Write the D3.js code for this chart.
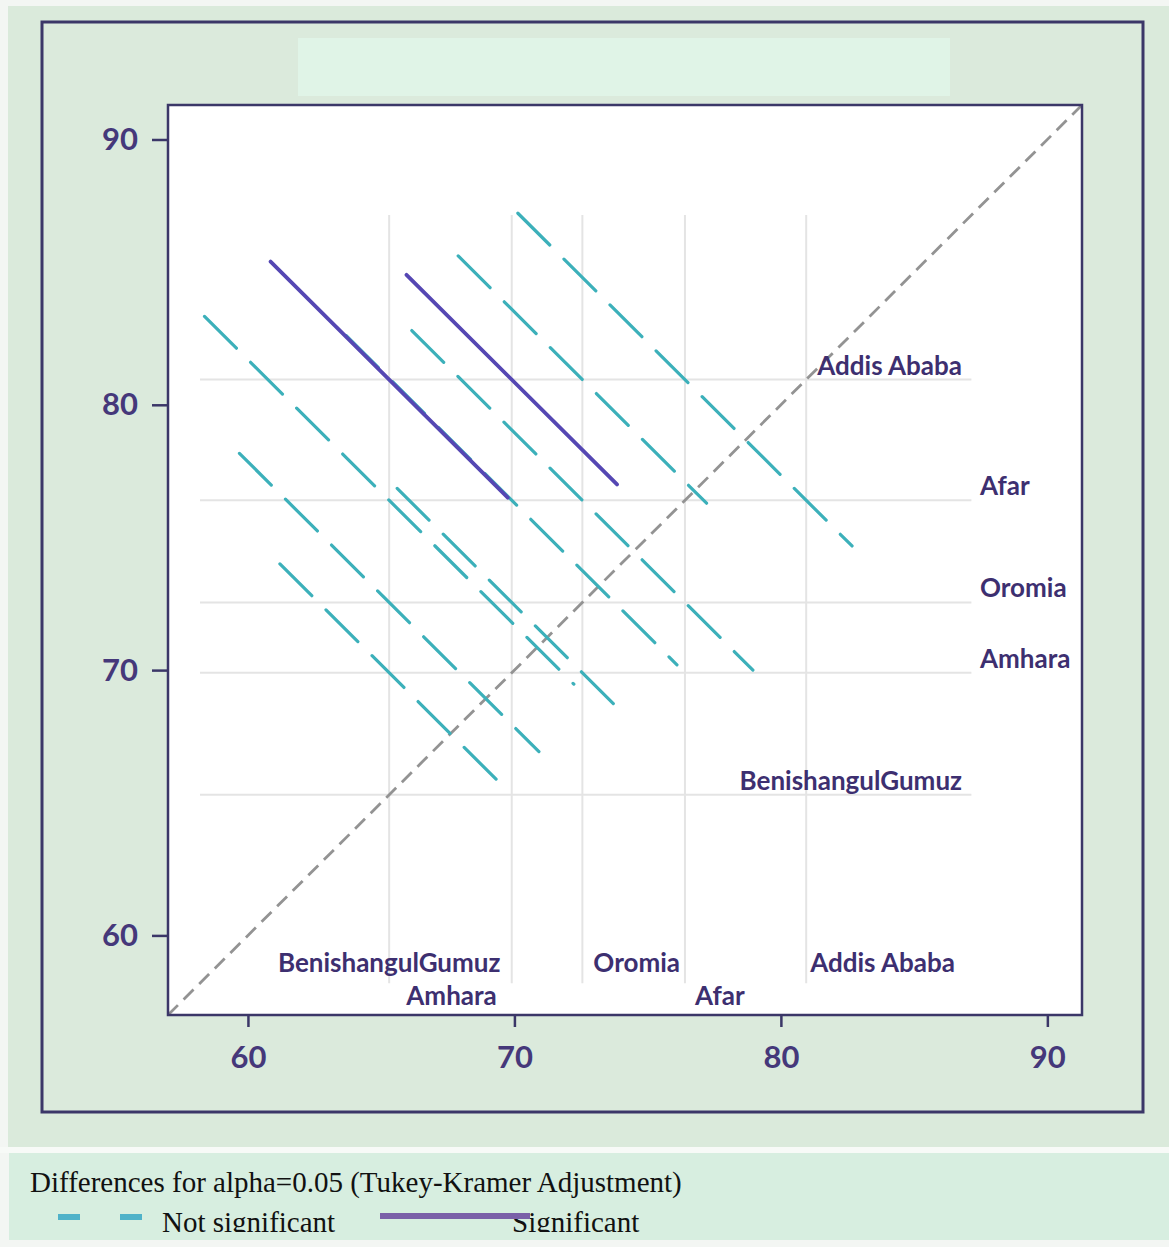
<!DOCTYPE html>
<html>
<head>
<meta charset="utf-8">
<script src="https://cdn.jsdelivr.net/npm/d3@7"></script>
<style>
  body { margin: 0; background: #f2f5f2; }
  svg { display: block; }
</style>
</head>
<body>
<svg id="chart" width="1169" height="1247"></svg>
<script>
// Group least-squares means (same value on both axes)
const groups = ["Addis Ababa", "Afar", "Oromia", "Amhara", "BenishangulGumuz"];
const groupMeans = [80.95, 76.4, 72.55, 69.9, 65.3];

// Pairwise comparisons: lower-mean group on x, higher-mean group on y,
// and the half span of the Tukey-Kramer interval along each axis
const pairX = ["BenishangulGumuz", "Amhara", "Afar", "Oromia", "Oromia",
               "BenishangulGumuz", "BenishangulGumuz", "BenishangulGumuz", "Amhara", "Amhara"];
const pairY = ["Addis Ababa", "Addis Ababa", "Addis Ababa", "Addis Ababa", "Afar",
               "Afar", "Oromia", "Amhara", "Oromia", "Afar"];
const pairHalfSpan = [4.45, 3.95, 6.27, 4.66, 6.4, 6.93, 5.62, 4.1, 4.3, 6.2];

const xTicks = [60, 70, 80, 90];
const yTicks = [60, 70, 80, 90];
const axisDomain = [57, 91.3];
const refExtent = [58.2, 87.15];

const legendTitle = "Differences for alpha=0.05 (Tukey-Kramer Adjustment)";
const legendLabels = ["Not significant", "Significant"];

const meanOf = Object.fromEntries(groups.map((g, i) => [g, groupMeans[i]]));

const svg = d3.select("#chart");
const W = 1169, H = 1247;
const plot = { left: 168, right: 1082, top: 105, bottom: 1015 };

const x = d3.scaleLinear().domain(axisDomain).range([plot.left, plot.right]);
const y = d3.scaleLinear().domain(axisDomain).range([plot.bottom, plot.top]);

const ink = "#3d2f70";
const cyan = "#3cb0ba";
const purple = "#5547b3";

// Backgrounds
svg.append("rect").attr("x", 0).attr("y", 0).attr("width", W).attr("height", H).attr("fill", "#f3f6f3");
svg.append("rect").attr("x", 8).attr("y", 6).attr("width", W - 8).attr("height", 1141).attr("fill", "#daeadb");
svg.append("rect").attr("x", 42).attr("y", 22).attr("width", 1101).attr("height", 1090)
  .attr("fill", "#dbeadc").attr("stroke", "#3b3768").attr("stroke-width", 3);
// empty title band
svg.append("rect").attr("x", 298).attr("y", 38).attr("width", 652).attr("height", 58).attr("fill", "#e0f4e7");

// Plot area
svg.append("rect").attr("x", plot.left).attr("y", plot.top)
  .attr("width", plot.right - plot.left).attr("height", plot.bottom - plot.top)
  .attr("fill", "#ffffff");

svg.append("clipPath").attr("id", "plotClip").append("rect")
  .attr("x", plot.left).attr("y", plot.top)
  .attr("width", plot.right - plot.left).attr("height", plot.bottom - plot.top);

const g = svg.append("g").attr("clip-path", "url(#plotClip)");

// Reference lines at each group mean
g.selectAll("line.vref").data(groupMeans).join("line")
  .attr("class", "vref")
  .attr("x1", d => x(d)).attr("x2", d => x(d))
  .attr("y1", y(refExtent[1])).attr("y2", y(refExtent[0]))
  .attr("stroke", "#e4e4e4").attr("stroke-width", 2);
g.selectAll("line.href").data(groupMeans).join("line")
  .attr("class", "href")
  .attr("y1", d => y(d)).attr("y2", d => y(d))
  .attr("x1", x(refExtent[0])).attr("x2", x(refExtent[1]))
  .attr("stroke", "#e4e4e4").attr("stroke-width", 2);

// Diagonal of equal means
g.append("line")
  .attr("x1", x(axisDomain[0])).attr("y1", y(axisDomain[0]))
  .attr("x2", x(axisDomain[1])).attr("y2", y(axisDomain[1]))
  .attr("stroke", "#939393").attr("stroke-width", 2.8).attr("stroke-dasharray", "14,8");

// Difference segments
const pairs = pairX.map((gx, i) => {
  const mx = meanOf[gx], my = meanOf[pairY[i]], h = pairHalfSpan[i];
  return { mx, my, h, significant: (my - mx) > 2 * h };
});

const drawPairs = (data, cls) => g.selectAll("line." + cls).data(data).join("line")
  .attr("class", cls)
  .attr("x1", d => x(d.mx - d.h)).attr("y1", d => y(d.my + d.h))
  .attr("x2", d => x(d.mx + d.h)).attr("y2", d => y(d.my - d.h))
  .attr("stroke-linecap", "round");

drawPairs(pairs.filter(d => !d.significant), "ns")
  .attr("stroke", cyan).attr("stroke-width", 3.2).attr("stroke-dasharray", "45,20");
drawPairs(pairs.filter(d => d.significant), "sig")
  .attr("stroke", purple).attr("stroke-width", 3.8);

// Group labels along bottom (x) and right (y)
const bottomLabel = {
  "BenishangulGumuz": { anchor: "middle", dx: 0, row: 0 },
  "Amhara": { anchor: "end", dx: -15, row: 1 },
  "Oromia": { anchor: "start", dx: 11, row: 0 },
  "Afar": { anchor: "start", dx: 10, row: 1 },
  "Addis Ababa": { anchor: "start", dx: 4, row: 0 }
};
const rightLabel = {
  "Addis Ababa": { anchor: "end", px: 962 },
  "Afar": { anchor: "start", px: 980 },
  "Oromia": { anchor: "start", px: 980 },
  "Amhara": { anchor: "start", px: 980 },
  "BenishangulGumuz": { anchor: "end", px: 962 }
};
const labelFont = "Lato, 'Open Sans', sans-serif";

svg.append("g").selectAll("text").data(groups).join("text")
  .attr("x", d => x(meanOf[d]) + bottomLabel[d].dx)
  .attr("y", d => 972 + bottomLabel[d].row * 33)
  .attr("text-anchor", d => bottomLabel[d].anchor)
  .attr("font-family", labelFont).attr("font-weight", 700).attr("font-size", 26)
  .attr("fill", ink).text(d => d);

svg.append("g").selectAll("text").data(groups).join("text")
  .attr("x", d => rightLabel[d].px)
  .attr("y", d => y(meanOf[d]) - 5)
  .attr("text-anchor", d => rightLabel[d].anchor)
  .attr("font-family", labelFont).attr("font-weight", 700).attr("font-size", 26)
  .attr("fill", ink).text(d => d);

// Plot frame
svg.append("rect").attr("x", plot.left).attr("y", plot.top)
  .attr("width", plot.right - plot.left).attr("height", plot.bottom - plot.top)
  .attr("fill", "none").attr("stroke", "#3b3768").attr("stroke-width", 2.5);

// Axes
const xAxis = svg.append("g").attr("transform", `translate(0,${plot.bottom})`)
  .call(d3.axisBottom(x).tickValues(xTicks).tickSize(12).tickPadding(19).tickFormat(d3.format("d")));
const yAxis = svg.append("g").attr("transform", `translate(${plot.left},0)`)
  .call(d3.axisLeft(y).tickValues(yTicks).tickSize(16).tickPadding(14).tickFormat(d3.format("d")));
[xAxis, yAxis].forEach(a => {
  a.select(".domain").remove();
  a.selectAll(".tick line").attr("stroke", "#3b3768").attr("stroke-width", 2.5);
  a.selectAll(".tick text").attr("fill", "#45387a")
    .attr("font-family", labelFont).attr("font-weight", 700).attr("font-size", 31);
});
xAxis.selectAll(".tick text").attr("dy", "0.71em");

// Legend
const serif = "'Liberation Serif', 'Times New Roman', serif";
svg.append("rect").attr("x", 0).attr("y", 1147).attr("width", W).attr("height", 6).attr("fill", "#f7faf7");
svg.append("rect").attr("x", 9).attr("y", 1153).attr("width", W - 9).attr("height", 87).attr("fill", "#d7eee0");
svg.append("clipPath").attr("id", "legClip").append("rect")
  .attr("x", 9).attr("y", 1153).attr("width", W - 9).attr("height", 79);
const leg = svg.append("g").attr("clip-path", "url(#legClip)");
leg.append("text").attr("x", 30).attr("y", 1192)
  .attr("font-family", serif).attr("font-size", 29)
  .attr("fill", "#111").text(legendTitle);
leg.append("line").attr("x1", 58).attr("x2", 143).attr("y1", 1217).attr("y2", 1217)
  .attr("stroke", "#4fb2c9").attr("stroke-width", 6).attr("stroke-dasharray", "22,40");
leg.append("text").attr("x", 162).attr("y", 1232)
  .attr("font-family", serif).attr("font-size", 29)
  .attr("fill", "#111").text(legendLabels[0]);
leg.append("text").attr("x", 512).attr("y", 1232)
  .attr("font-family", serif).attr("font-size", 29)
  .attr("fill", "#111").text(legendLabels[1]);
leg.append("line").attr("x1", 380).attr("x2", 530).attr("y1", 1216).attr("y2", 1216)
  .attr("stroke", "#7a60a8").attr("stroke-width", 6);
</script>
</body>
</html>
